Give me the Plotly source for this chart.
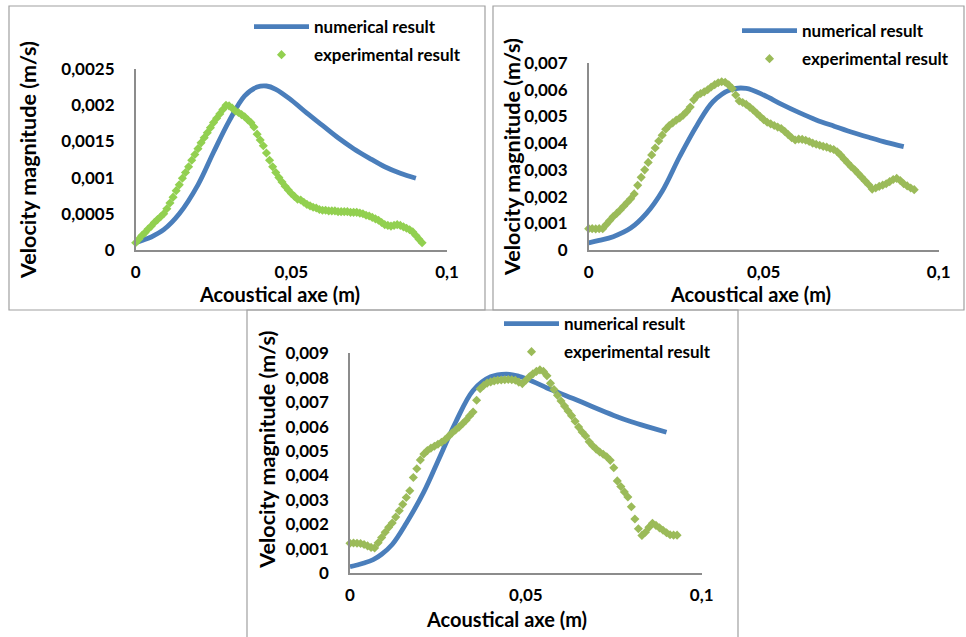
import plotly.graph_objects as go

W, H = 966, 637

# ---------------- data ----------------
x_ticks = [0, 0.05, 0.1]
x_ticktext = ["0", "0,05", "0,1"]

# Panel 1
p1_y_ticks = [0, 0.0005, 0.001, 0.0015, 0.002, 0.0025]
p1_y_ticktext = ["0", "0,0005", "0,001", "0,0015", "0,002", "0,0025"]
p1_num_x = [0, 0.002, 0.005, 0.009, 0.014, 0.02, 0.025, 0.03, 0.035, 0.039, 0.042,
            0.045, 0.05, 0.055, 0.06, 0.065, 0.07, 0.075, 0.08, 0.085, 0.09]
p1_num_y = [0.0001, 0.00013, 0.00018, 0.00028, 0.0005, 0.0009, 0.00135, 0.00178, 0.00213,
            0.00225, 0.002265, 0.00222, 0.00207, 0.00189, 0.00172, 0.00155, 0.0014,
            0.00127, 0.00115, 0.00106, 0.00099]
p1_exp_x = [i / 1000 for i in range(0, 93)]
p1_exp_y = [0.0001, 0.00015, 0.0002, 0.00024, 0.00029, 0.00033, 0.00038, 0.00042, 0.00046, 0.0005,
            0.00057, 0.00065, 0.00073, 0.00082, 0.0009, 0.00099, 0.00107, 0.00115, 0.00124, 0.00132,
            0.0014, 0.00148, 0.00155, 0.00162, 0.00169, 0.00176, 0.00182, 0.00188, 0.00194, 0.002,
            0.00199, 0.00196, 0.00192, 0.0019, 0.00187, 0.00184, 0.0018, 0.00176, 0.0017, 0.0016,
            0.00152, 0.00144, 0.00134, 0.00124, 0.00115, 0.00107, 0.001, 0.00094, 0.00088, 0.00083,
            0.00078, 0.00074, 0.0007, 0.00069, 0.00066, 0.00063, 0.00061, 0.00059, 0.00058, 0.00056,
            0.00055, 0.00055, 0.00054, 0.00054, 0.00054, 0.00053, 0.00053, 0.00053, 0.00053, 0.00052,
            0.00052, 0.00052, 0.00051, 0.0005, 0.00048, 0.00047, 0.00045, 0.00043, 0.00041, 0.00038,
            0.00035, 0.00034, 0.00033, 0.00034, 0.00035, 0.00034, 0.00032, 0.0003, 0.00028, 0.00025,
            0.0002, 0.00015, 0.0001]

# Panel 2
p2_y_ticks = [0, 0.001, 0.002, 0.003, 0.004, 0.005, 0.006, 0.007]
p2_y_ticktext = ["0", "0,001", "0,002", "0,003", "0,004", "0,005", "0,006", "0,007"]
p2_num_x = [0, 0.003, 0.007, 0.012, 0.0165, 0.021, 0.026, 0.031, 0.0355, 0.0405, 0.045,
            0.05, 0.055, 0.06, 0.065, 0.07, 0.075, 0.08, 0.085, 0.09]
p2_num_y = [0.00027, 0.00036, 0.0005, 0.00082, 0.00137, 0.0022, 0.0035, 0.00468, 0.00555, 0.006,
            0.00605, 0.0058, 0.00546, 0.00515, 0.00487, 0.00464, 0.00442, 0.00422, 0.00403, 0.00387]
p2_exp_x = [i / 1000 for i in range(0, 94)]
p2_exp_y = [0.0008, 0.0008, 0.00079, 0.0008, 0.0008, 0.00095, 0.0011, 0.00125, 0.00137, 0.0015,
            0.00164, 0.00178, 0.00192, 0.0021, 0.00242, 0.00272, 0.003, 0.00328, 0.00356, 0.00382,
            0.00408, 0.0043, 0.00452, 0.00466, 0.00476, 0.00486, 0.00494, 0.00505, 0.00518, 0.00535,
            0.00562, 0.00578, 0.00586, 0.00592, 0.006, 0.0061, 0.00619, 0.00626, 0.0063, 0.00628,
            0.00618, 0.00605, 0.0058, 0.00558, 0.00552, 0.00545, 0.00535, 0.00524, 0.00512, 0.005,
            0.00488, 0.00478, 0.00472, 0.00466, 0.0046, 0.00455, 0.00444, 0.00432, 0.0042, 0.00412,
            0.00415, 0.00414, 0.00411, 0.00406, 0.004, 0.00396, 0.00392, 0.00388, 0.00385, 0.0038,
            0.00376, 0.00368, 0.00355, 0.0034, 0.00326, 0.00312, 0.003, 0.00286, 0.00272, 0.00258,
            0.00244, 0.00228, 0.00232, 0.00238, 0.00243, 0.00248, 0.00256, 0.00264, 0.00268, 0.0026,
            0.00248, 0.0024, 0.00232, 0.00226]

# Panel 3
p3_y_ticks = [0, 0.001, 0.002, 0.003, 0.004, 0.005, 0.006, 0.007, 0.008, 0.009]
p3_y_ticktext = ["0", "0,001", "0,002", "0,003", "0,004", "0,005", "0,006", "0,007", "0,008", "0,009"]
p3_num_x = [0, 0.002, 0.004, 0.0066, 0.009, 0.012, 0.016, 0.021, 0.0255, 0.03, 0.035, 0.04, 0.0445,
            0.048, 0.052, 0.056, 0.06, 0.065, 0.07, 0.075, 0.08, 0.085, 0.09]
p3_num_y = [0.00027, 0.00034, 0.00042, 0.00056, 0.00078, 0.00118, 0.00205, 0.00333, 0.00475,
            0.00617, 0.00748, 0.00804, 0.00815, 0.00806, 0.00785, 0.00758, 0.00735, 0.00706,
            0.00675, 0.00646, 0.0062, 0.00598, 0.00577]
p3_exp_x = [i / 1000 for i in range(0, 94)]
p3_exp_y = [0.00123, 0.00124, 0.00123, 0.00122, 0.00118, 0.00112, 0.00106, 0.00104, 0.00125, 0.00146,
            0.00168, 0.00188, 0.00206, 0.0023, 0.00256, 0.00282, 0.0031, 0.00338, 0.00392, 0.00428,
            0.00464, 0.00488, 0.00502, 0.00512, 0.0052, 0.00528, 0.00536, 0.00546, 0.0056, 0.00574,
            0.00586, 0.00598, 0.00612, 0.00626, 0.00644, 0.0066, 0.00708, 0.00755, 0.00768, 0.00778,
            0.00783, 0.00787, 0.0079, 0.00791, 0.00792, 0.00793, 0.00792, 0.0079, 0.00782, 0.00776,
            0.0079, 0.00804, 0.00816, 0.00826, 0.00832, 0.00826, 0.00808, 0.00777, 0.00752, 0.00728,
            0.00705, 0.00684, 0.00664, 0.00645, 0.00622, 0.00598, 0.00578, 0.00562, 0.00538, 0.00522,
            0.00508, 0.00496, 0.00487, 0.00477, 0.00462, 0.00432, 0.00378, 0.00355, 0.00333, 0.00312,
            0.00272, 0.00222, 0.00182, 0.00155, 0.00168, 0.00188, 0.00205, 0.00196, 0.00186, 0.00176,
            0.00166, 0.00158, 0.00156, 0.00156]

num_name = "numerical result"
exp_name = "experimental result"
x_title = "Acoustical axe (m)"
y_title = "Velocity magnitude (m/s)"

# ---------------- style ----------------
FONT = "Lato"
BLUE = "#4A7EBB"
GREEN1 = "#92D050"
GREEN2 = "#9BBB59"
AXIS_COLOR = "#8C8C8C"
FRAME_COLOR = "#A0A0A0"


def fx(p):
    return p / W


def fy(p):
    return 1 - p / H


panels = [
    dict(ax="", leg="legend", nx=p1_num_x, ny=p1_num_y, ex=p1_exp_x, ey=p1_exp_y, green=GREEN1,
         yt=p1_y_ticks, ytt=p1_y_ticktext, ymax=0.0025, xd=(135.7, 447.0), yd=(250.0, 69.0),
         leg_pos=(249, 9), ytitle=(28, 160), xtitle=(279, 294)),
    dict(ax="2", leg="legend2", nx=p2_num_x, ny=p2_num_y, ex=p2_exp_x, ey=p2_exp_y, green=GREEN2,
         yt=p2_y_ticks, ytt=p2_y_ticktext, ymax=0.007, xd=(588.7, 938.7), yd=(250.0, 63.0),
         leg_pos=(737, 13), ytitle=(512, 157), xtitle=(750.7, 294)),
    dict(ax="3", leg="legend3", nx=p3_num_x, ny=p3_num_y, ex=p3_exp_x, ey=p3_exp_y, green=GREEN2,
         yt=p3_y_ticks, ytt=p3_y_ticktext, ymax=0.009, xd=(350.0, 701.7), yd=(573.3, 353.3),
         leg_pos=(499, 306), ytitle=(266.7, 450), xtitle=(506.7, 619)),
]

fig = go.Figure()
layout = dict(
    width=W, height=H, margin=dict(l=0, r=0, t=0, b=0, autoexpand=False),
    paper_bgcolor="white", plot_bgcolor="white",
    font=dict(family=FONT, color="black"),
    showlegend=True, shapes=[], annotations=[],
)

tickfont = dict(family=FONT, size=17, color="black", weight="bold")
titlefont = dict(family=FONT, size=20, color="black", weight="bold")
for p in panels:
    xa = "x" + p["ax"]
    ya = "y" + p["ax"]
    fig.add_trace(go.Scatter(
        x=p["nx"], y=p["ny"], mode="lines", name=num_name,
        line=dict(color=BLUE, width=4.8, shape="spline"),
        xaxis=xa, yaxis=ya, legend=p["leg"], legendgroup=p["leg"] + "a", cliponaxis=False))
    fig.add_trace(go.Scatter(
        x=p["ex"], y=p["ey"], mode="markers", name=exp_name,
        marker=dict(symbol="diamond", size=7, color=p["green"], line=dict(width=0)),
        xaxis=xa, yaxis=ya, legend=p["leg"], legendgroup=p["leg"] + "b", cliponaxis=False))

    layout["xaxis" + p["ax"]] = dict(
        domain=[fx(p["xd"][0]), fx(p["xd"][1])], range=[0, 0.1], anchor=ya,
        showline=True, linecolor=AXIS_COLOR, linewidth=1.5, showgrid=False, zeroline=False,
        tickvals=x_ticks, ticktext=x_ticktext, ticks="", tickfont=tickfont, ticklabelstandoff=6,
        fixedrange=True, automargin=False)
    layout["yaxis" + p["ax"]] = dict(
        domain=[fy(p["yd"][0]), fy(p["yd"][1])], range=[0, p["ymax"]], anchor=xa,
        showline=True, linecolor=AXIS_COLOR, linewidth=1.5, showgrid=False, zeroline=False,
        tickvals=p["yt"], ticktext=p["ytt"], ticks="", tickfont=tickfont, ticklabelstandoff=16,
        fixedrange=True, automargin=False)
    layout[p["leg"]] = dict(
        x=fx(p["leg_pos"][0]), y=fy(p["leg_pos"][1]), xanchor="left", yanchor="top",
        bgcolor="rgba(0,0,0,0)", borderwidth=0, itemwidth=55, tracegroupgap=3,
        font=dict(family=FONT, size=17, color="black", weight="bold"), traceorder="grouped")
    layout["annotations"].append(dict(
        text=y_title, x=fx(p["ytitle"][0]), y=fy(p["ytitle"][1]), xref="paper", yref="paper",
        textangle=-90, showarrow=False, xanchor="center", yanchor="middle",
        font=dict(family=FONT, size=21.5, color="black", weight="bold")))
    layout["annotations"].append(dict(
        text=x_title, x=fx(p["xtitle"][0]), y=fy(p["xtitle"][1]), xref="paper", yref="paper",
        showarrow=False, xanchor="center", yanchor="middle", font=titlefont))

frames = [(9, 6, 485, 310), (493, 6, 964, 310), (247, 310, 738, 640)]
for (x0, y0, x1, y1) in frames:
    layout["shapes"].append(dict(
        type="rect", xref="paper", yref="paper", x0=fx(x0), x1=fx(x1), y0=fy(y1), y1=fy(y0),
        line=dict(color=FRAME_COLOR, width=1.2), fillcolor="rgba(0,0,0,0)", layer="below"))

fig.update_layout(**layout)
fig.write_html(
    "out.html",
    config={"displayModeBar": False, "staticPlot": False},
    post_script="document.body.style.margin='0';document.body.style.overflow='hidden';",
)
